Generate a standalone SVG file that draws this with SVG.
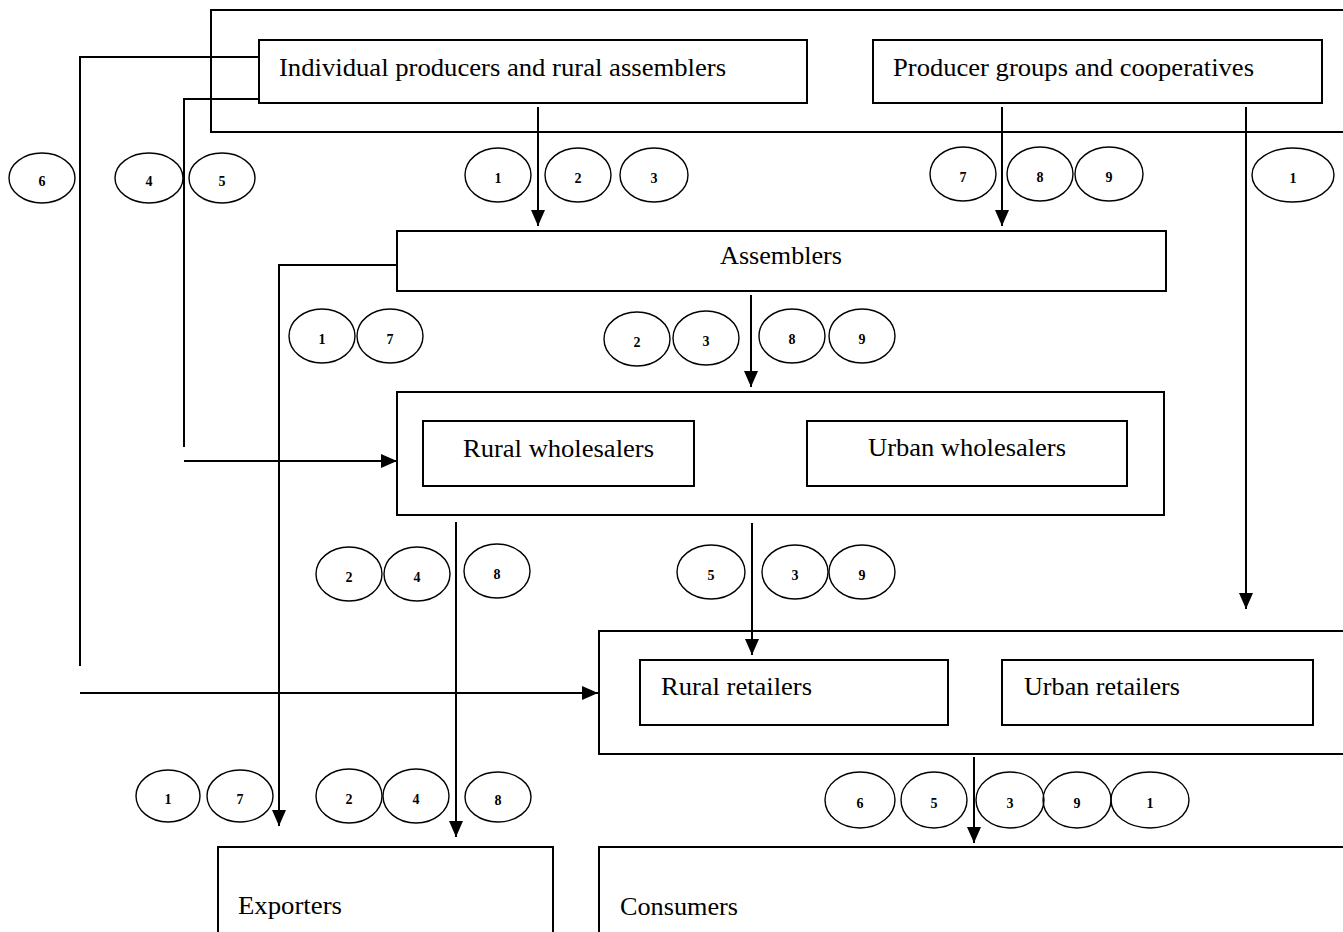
<svg xmlns="http://www.w3.org/2000/svg" width="1343" height="932" viewBox="0 0 1343 932">
<style>
.box{fill:none;stroke:#000;stroke-width:2}
.ln{fill:none;stroke:#000;stroke-width:2}
.lbl{font-family:"Liberation Serif","Times New Roman",serif;font-size:25px;fill:#000}
.ov ellipse{fill:none;stroke:#000;stroke-width:1.4}
.ov text{font-family:"Liberation Serif","Times New Roman",serif;font-size:14px;font-weight:bold;text-anchor:middle;fill:#000}
</style>
<defs>
<marker id="ah" markerUnits="userSpaceOnUse" markerWidth="16" markerHeight="16" viewBox="0 0 16 14" refX="16" refY="7" orient="auto">
<path d="M0,0 L16,7 L0,14 Z" fill="#000"/>
</marker>
</defs>
<rect width="1343" height="932" fill="#fff"/>
<g id="producers-outer"><rect class="box" x="211" y="10" width="1150" height="122"/></g>
<g id="individual-producers"><rect class="box" x="259" y="40" width="548" height="63"/><text class="lbl" x="279" y="76" textLength="447" lengthAdjust="spacingAndGlyphs">Individual producers and rural assemblers</text></g>
<g id="producer-groups"><rect class="box" x="873" y="40" width="449" height="63"/><text class="lbl" x="893" y="76" textLength="361" lengthAdjust="spacingAndGlyphs">Producer groups and cooperatives</text></g>
<g id="assemblers"><rect class="box" x="397" y="231" width="769" height="60"/><text class="lbl" x="720" y="264" textLength="122" lengthAdjust="spacingAndGlyphs">Assemblers</text></g>
<g id="wholesalers"><rect class="box" x="397" y="392" width="767" height="123"/></g>
<g id="rural-wholesalers"><rect class="box" x="423" y="421" width="271" height="65"/><text class="lbl" x="463" y="457" textLength="191" lengthAdjust="spacingAndGlyphs">Rural wholesalers</text></g>
<g id="urban-wholesalers"><rect class="box" x="807" y="421" width="320" height="65"/><text class="lbl" x="868" y="456" textLength="198" lengthAdjust="spacingAndGlyphs">Urban wholesalers</text></g>
<g id="retailers"><rect class="box" x="599" y="631" width="760" height="123"/></g>
<g id="rural-retailers"><rect class="box" x="640" y="660" width="308" height="65"/><text class="lbl" x="661" y="695" textLength="151" lengthAdjust="spacingAndGlyphs">Rural retailers</text></g>
<g id="urban-retailers"><rect class="box" x="1002" y="660" width="311" height="65"/><text class="lbl" x="1024" y="695" textLength="156" lengthAdjust="spacingAndGlyphs">Urban retailers</text></g>
<g id="exporters"><rect class="box" x="218" y="847" width="335" height="100"/><text class="lbl" x="238" y="914" textLength="104" lengthAdjust="spacingAndGlyphs">Exporters</text></g>
<g id="consumers"><rect class="box" x="599" y="847" width="760" height="100"/><text class="lbl" x="620" y="915" textLength="118" lengthAdjust="spacingAndGlyphs">Consumers</text></g>
<g id="connectors">
<polyline class="ln" points="259,57 80,57 80,666"/>
<line class="ln" x1="80" y1="693" x2="598" y2="693" marker-end="url(#ah)"/>
<polyline class="ln" points="259,99 184,99 184,447"/>
<line class="ln" x1="184" y1="461" x2="397" y2="461" marker-end="url(#ah)"/>
<polyline class="ln" points="397,265 279,265 279,826" marker-end="url(#ah)"/>
<line class="ln" x1="538" y1="107" x2="538" y2="226" marker-end="url(#ah)"/>
<line class="ln" x1="1002" y1="107" x2="1002" y2="226" marker-end="url(#ah)"/>
<line class="ln" x1="1246" y1="107" x2="1246" y2="609" marker-end="url(#ah)"/>
<line class="ln" x1="751" y1="295" x2="751" y2="387" marker-end="url(#ah)"/>
<line class="ln" x1="752" y1="523" x2="752" y2="655" marker-end="url(#ah)"/>
<line class="ln" x1="456" y1="522" x2="456" y2="837" marker-end="url(#ah)"/>
<line class="ln" x1="974" y1="757" x2="974" y2="843" marker-end="url(#ah)"/>
</g>
<g id="labels" class="ov">
<ellipse cx="42" cy="178" rx="33" ry="25"/><text x="42" y="186">6</text>
<ellipse cx="149" cy="178" rx="34" ry="25"/><text x="149" y="186">4</text>
<ellipse cx="222" cy="178" rx="33" ry="25"/><text x="222" y="186">5</text>
<ellipse cx="498" cy="175" rx="33" ry="27"/><text x="498" y="183">1</text>
<ellipse cx="578" cy="175" rx="33" ry="27"/><text x="578" y="183">2</text>
<ellipse cx="654" cy="175" rx="34" ry="27"/><text x="654" y="183">3</text>
<ellipse cx="963" cy="174" rx="33" ry="27"/><text x="963" y="182">7</text>
<ellipse cx="1040" cy="174" rx="33" ry="27"/><text x="1040" y="182">8</text>
<ellipse cx="1109" cy="174" rx="34" ry="27"/><text x="1109" y="182">9</text>
<ellipse cx="1293" cy="175" rx="41" ry="27"/><text x="1293" y="183">1</text>
<ellipse cx="322" cy="336" rx="33" ry="27"/><text x="322" y="344">1</text>
<ellipse cx="390" cy="336" rx="33" ry="27"/><text x="390" y="344">7</text>
<ellipse cx="637" cy="339" rx="33" ry="27"/><text x="637" y="347">2</text>
<ellipse cx="706" cy="338" rx="33" ry="27"/><text x="706" y="346">3</text>
<ellipse cx="792" cy="336" rx="33" ry="27"/><text x="792" y="344">8</text>
<ellipse cx="862" cy="336" rx="33" ry="27"/><text x="862" y="344">9</text>
<ellipse cx="349" cy="574" rx="33" ry="27"/><text x="349" y="582">2</text>
<ellipse cx="417" cy="574" rx="33" ry="27"/><text x="417" y="582">4</text>
<ellipse cx="497" cy="571" rx="33" ry="27"/><text x="497" y="579">8</text>
<ellipse cx="711" cy="572" rx="34" ry="27"/><text x="711" y="580">5</text>
<ellipse cx="795" cy="572" rx="33" ry="27"/><text x="795" y="580">3</text>
<ellipse cx="862" cy="572" rx="33" ry="27"/><text x="862" y="580">9</text>
<ellipse cx="168" cy="796" rx="32" ry="26"/><text x="168" y="804">1</text>
<ellipse cx="240" cy="796" rx="33" ry="26"/><text x="240" y="804">7</text>
<ellipse cx="349" cy="796" rx="33" ry="27"/><text x="349" y="804">2</text>
<ellipse cx="416" cy="796" rx="33" ry="27"/><text x="416" y="804">4</text>
<ellipse cx="498" cy="797" rx="33" ry="25"/><text x="498" y="805">8</text>
<ellipse cx="860" cy="800" rx="35" ry="28"/><text x="860" y="808">6</text>
<ellipse cx="934" cy="800" rx="33" ry="28"/><text x="934" y="808">5</text>
<ellipse cx="1010" cy="800" rx="34" ry="28"/><text x="1010" y="808">3</text>
<ellipse cx="1077" cy="800" rx="34" ry="28"/><text x="1077" y="808">9</text>
<ellipse cx="1150" cy="800" rx="39" ry="28"/><text x="1150" y="808">1</text>
</g>
</svg>
